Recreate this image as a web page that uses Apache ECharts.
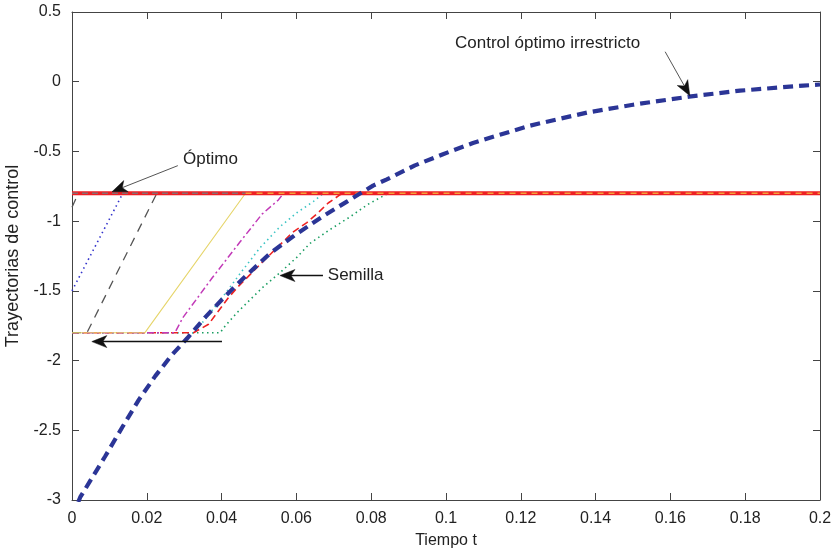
<!DOCTYPE html>
<html><head><meta charset="utf-8">
<script src="https://cdn.jsdelivr.net/npm/echarts@6/dist/echarts.min.js"></script>
<style>html,body{margin:0;padding:0;background:#fff}#c{width:835px;height:548px}</style>
</head><body><div id="c"></div>
<script>
// ---- data ----
const xTicks = [0, 0.02, 0.04, 0.06, 0.08, 0.1, 0.12, 0.14, 0.16, 0.18, 0.2];
const yTicks = [-3, -2.5, -2, -1.5, -1, -0.5, 0, 0.5];

const unconstrained = [[0,-3.12],[0.0022,-2.98],[0.0088,-2.69],[0.0134,-2.48],[0.0179,-2.28],[0.0223,-2.11],[0.0267,-1.96],[0.0308,-1.84],[0.0356,-1.69],[0.0409,-1.54],[0.047,-1.38],[0.053,-1.23],[0.0596,-1.10],[0.0668,-0.97],[0.0735,-0.86],[0.0805,-0.745],[0.0842,-0.70],[0.0917,-0.60],[0.0992,-0.52],[0.1072,-0.44],[0.1144,-0.38],[0.1225,-0.315],[0.1305,-0.265],[0.138,-0.22],[0.15,-0.165],[0.165,-0.107],[0.1786,-0.064],[0.1955,-0.028],[0.2,-0.02]];
const optimum = [[0,-0.8],[0.2,-0.8]];
const optimumEarlyPass = [[0,-0.8],[0.0464,-0.8]];
const optimumLatePass = [[0.0464,-0.8],[0.2,-0.8]];

const seedGrayTop = [[0,-0.9],[0.0017,-0.8]];
const seedBlueDot = [[0,-1.5],[0.0136,-0.8]];
const seedGray = [[0,-1.8],[0.004,-1.8],[0.0227,-0.8]];
const seedYellow = [[0,-1.8],[0.0195,-1.8],[0.0464,-0.8]];
const seedMagenta = [[0,-1.8],[0.0275,-1.8],[0.0297,-1.69],[0.0374,-1.41],[0.0449,-1.15],[0.0508,-0.95],[0.0551,-0.85],[0.0566,-0.8]];
const seedRed = [[0,-1.8],[0.0325,-1.8],[0.0365,-1.74],[0.039,-1.65],[0.0418,-1.55],[0.0444,-1.47],[0.047,-1.40],[0.0503,-1.31],[0.059,-1.08],[0.0628,-1.01],[0.0658,-0.94],[0.0685,-0.87],[0.0717,-0.81],[0.0725,-0.8]];
const seedCyan = [[0,-1.8],[0.0325,-1.8],[0.0345,-1.74],[0.0404,-1.54],[0.0454,-1.36],[0.0503,-1.19],[0.0556,-1.04],[0.0601,-0.94],[0.0645,-0.86],[0.0672,-0.8]];
const seedGreen = [[0,-1.8],[0.0396,-1.8],[0.041,-1.75],[0.044,-1.66],[0.047,-1.58],[0.0508,-1.48],[0.0556,-1.37],[0.0601,-1.26],[0.0636,-1.16],[0.069,-1.06],[0.0743,-0.97],[0.0791,-0.88],[0.0832,-0.82],[0.0845,-0.8]];

const annotLabels = ['Óptimo', 'Control óptimo irrestricto', 'Semilla'];

// ---- layout of annotations (data coords) ----
const annotTextPos = [[0.0297,-0.559],[0.1024,0.272],[0.0684,-1.39]];
const arrows = [
  {from:[0.0283,-0.602], to:[0.0107,-0.789], color:'#555', w:1},
  {from:[0.1586,0.215], to:[0.1652,-0.10], color:'#555', w:1},
  {from:[0.0671,-1.39], to:[0.0556,-1.39], color:'#111', w:1.5},
  {from:[0.0401,-1.864], to:[0.0053,-1.864], color:'#111', w:1.5}
];

const FONT = '"Liberation Sans", Arial, Helvetica, sans-serif';
const chart = echarts.init(document.getElementById('c'), null, {renderer:'canvas'});

function ln(data, color, width, type, z) {
  return {type:'line', data, showSymbol:false, symbol:'none', smooth:false, z:z||2,
    lineStyle:{color, width, type: type||'solid', cap:'butt'}, silent:true, animation:false};
}
const fmt = v => String(+(+v).toFixed(2));
const axisCommon = {
  axisLine:{show:true, onZero:false, lineStyle:{color:'#444', width:1}},
  axisTick:{show:true, inside:true, length:7, lineStyle:{color:'#444'}},
  splitLine:{show:false}
};

chart.setOption({
  animation:false,
  backgroundColor:'#fff',
  grid:{left:72, right:15, top:12, bottom:48, containLabel:false, outerBoundsMode:'none'},
  xAxis:[
    Object.assign({type:'value', min:xTicks[0], max:xTicks[xTicks.length-1], interval:0.02, position:'bottom',
      name:'Tiempo t', nameLocation:'middle', nameGap:33,
      nameTextStyle:{fontFamily:FONT, fontSize:16, color:'#222'},
      axisLabel:{show:true, margin:11, fontFamily:FONT, fontSize:16, color:'#222', formatter:fmt, showMinLabel:true, showMaxLabel:true}}, axisCommon),
    Object.assign({type:'value', min:xTicks[0], max:xTicks[xTicks.length-1], interval:0.02, position:'top',
      axisLabel:{show:false}}, axisCommon)
  ],
  yAxis:[
    Object.assign({type:'value', min:yTicks[0], max:yTicks[yTicks.length-1], interval:0.5, position:'left',
      name:'Trayectorias de control', nameLocation:'middle', nameGap:44, nameRotate:90,
      nameTextStyle:{fontFamily:FONT, fontSize:18, color:'#222'},
      axisLabel:{show:true, margin:11, fontFamily:FONT, fontSize:16, color:'#222', formatter:fmt, showMinLabel:true, showMaxLabel:true}}, axisCommon),
    Object.assign({type:'value', min:yTicks[0], max:yTicks[yTicks.length-1], interval:0.5, position:'right',
      axisLabel:{show:false}}, axisCommon)
  ],
  series:[
    ln(seedGreen, '#1a9e62', 1.6, [1.5,3.5], 2),
    ln(seedCyan, '#3cc4c4', 1.6, [1.5,3.5], 3),
    ln(seedRed, '#ee2222', 1.6, [7,4], 4),
    ln(seedMagenta, '#c23ab8', 1.5, [7,3,2,3], 5),
    ln(seedGray, '#555555', 1.3, [9,7], 6),
    ln(seedYellow, '#e6d56a', 1.1, 'solid', 7),
    ln(seedBlueDot, '#3333cc', 1.6, [1.5,3.5], 6),
    ln(seedGrayTop, '#555555', 1.3, [9,7], 6),
    ln(optimum, '#ee1f24', 3.8, 'solid', 10),
    ln(optimumEarlyPass, '#8a6a6e', 1.5, [6,4], 11),
    ln(optimumLatePass, '#f3a23a', 1.5, [6,5], 11),
    ln(unconstrained, '#2b3596', 4.2, [10,6], 12)
  ]
});

function px(p){ return chart.convertToPixel({gridIndex:0}, p); }
function arrowEls(a) {
  const p0 = px(a.from), p1 = px(a.to);
  const dx = p1[0]-p0[0], dy = p1[1]-p0[1], L = Math.hypot(dx,dy);
  const ux = dx/L, uy = dy/L, nx = -uy, ny = ux;
  const hl = 15, hw = 6, notch = 4;
  const bx = p1[0]-ux*hl, by = p1[1]-uy*hl;
  const mx = p1[0]-ux*(hl-notch), my = p1[1]-uy*(hl-notch);
  return [
    {type:'line', z:100, shape:{x1:p0[0], y1:p0[1], x2:mx, y2:my}, style:{stroke:a.color, lineWidth:a.w}},
    {type:'polygon', z:101, shape:{points:[[p1[0],p1[1]],[bx+nx*hw,by+ny*hw],[mx,my],[bx-nx*hw,by-ny*hw]]}, style:{fill:'#111', stroke:'#111', lineWidth:0.5}}
  ];
}
const els = [];
arrows.forEach(a => els.push(...arrowEls(a)));
annotLabels.forEach((t,i) => {
  const p = px(annotTextPos[i]);
  els.push({type:'text', z:102, x:p[0], y:p[1], style:{text:t, fill:'#222', fontFamily:FONT, fontSize:17, align:'left', verticalAlign:'middle'}});
});
chart.setOption({graphic:{elements:els}});
</script>
</body></html>
